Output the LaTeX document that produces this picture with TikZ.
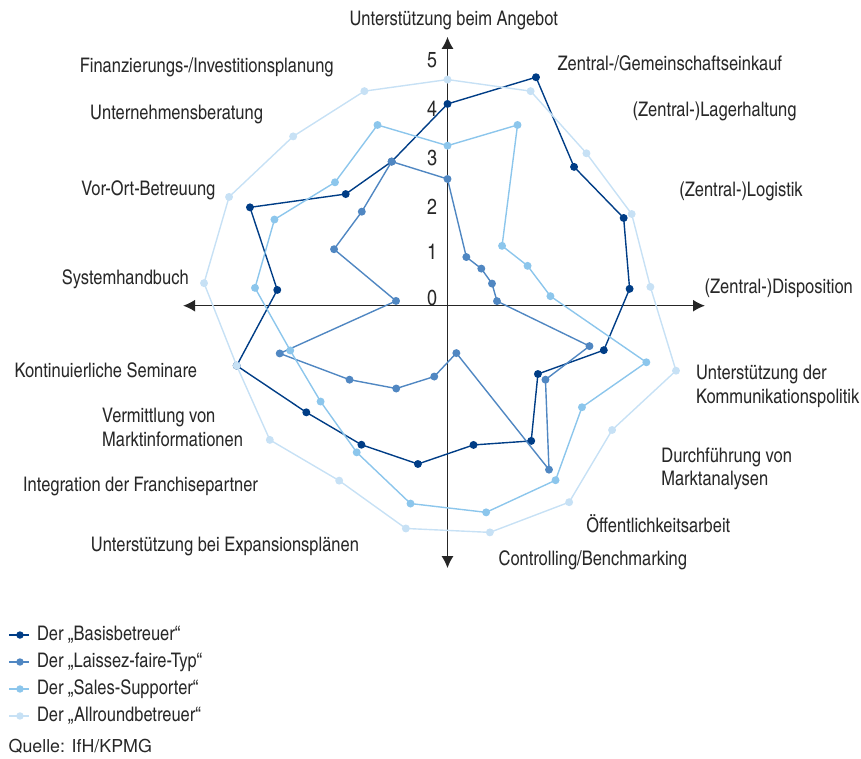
\documentclass[tikz,border=0pt]{standalone}
\usepackage{fontspec}
\setmainfont{TeX Gyre Heros Cn}
\newfontfamily\quellefont{TeX Gyre Heros}
\usetikzlibrary{arrows.meta}
\definecolor{basiscol}{RGB}{0,61,134}
\definecolor{laissezcol}{RGB}{80,135,194}
\definecolor{salescol}{RGB}{140,198,236}
\definecolor{allroundcol}{RGB}{199,225,245}
\definecolor{txtcol}{RGB}{40,40,40}

\begin{document}
\begin{tikzpicture}[
    font=\fontsize{11.5}{13.6}\selectfont,
    lbl/.style={inner sep=0pt,text=txtcol},
    ticklbl/.style={inner sep=0pt,text=txtcol,font=\fontsize{12.5}{13}\selectfont},
    ax/.style={line width=0.75pt,draw=black!85,
      {Latex[length=2.4mm,width=2.4mm]}-{Latex[length=2.4mm,width=2.4mm]}},
    ser/.style={line width=0.8pt,draw=#1,line join=round}
  ]
  \useasboundingbox (-9.004,-9.101) rectangle (8.320,6.151);

  % axes
  \coordinate (top) at (0,5.41);
  \coordinate (bottom) at (0,-5.28);
  \coordinate (left) at (-5.32,0);
  \coordinate (right) at (5.18,0);
  \draw[ax] (bottom) -- (top);
  \draw[ax] (left) -- (right);

  % scale
  \foreach \v/\y in {0/0.16,1/1.09,2/1.98,3/2.97,4/3.96,5/4.94}
    \node[ticklbl] (t\v) at (-0.31,\y) {\v};

  % category labels
  \node[lbl] (angebot) at (0.127,5.734) {Unterstützung beim Angebot};
  \node[lbl,anchor=west] (einkauf) at (2.209,4.877) {Zentral-/Gemeinschaftseinkauf};
  \node[lbl,anchor=west] (lager) at (3.718,3.903) {(Zentral-)Lagerhaltung};
  \node[lbl,anchor=west] (logistik) at (4.658,2.294) {(Zentral-)Logistik};
  \node[lbl,anchor=west] (dispo) at (5.167,0.350) {(Zentral-)Disposition};
  \node[lbl,anchor=west,align=left] (komm) at (4.994,-1.626) {Unterstützung der\\Kommunikationspolitik};
  \node[lbl,anchor=west,align=left] (markt) at (4.296,-3.280) {Durchführung von\\Marktanalysen};
  \node[lbl,anchor=west] (oeff) at (2.787,-4.392) {Öffentlichkeitsarbeit};
  \node[lbl,anchor=west] (contr) at (1.022,-5.117) {Controlling/Benchmarking};
  \node[lbl,anchor=east] (expan) at (-1.775,-4.849) {Unterstützung bei Expansionsplänen};
  \node[lbl,anchor=east] (integ) at (-3.807,-3.642) {Integration der Franchisepartner};
  \node[lbl,anchor=east,align=left] (vermi) at (-4.109,-2.455) {Vermittlung von\\Marktinformationen};
  \node[lbl,anchor=east] (semin) at (-5.034,-1.294) {Kontinuierliche Seminare};
  \node[lbl,anchor=east] (handb) at (-5.201,0.537) {Systemhandbuch};
  \node[lbl,anchor=east] (vorort) at (-4.664,2.328) {Vor-Ort-Betreuung};
  \node[lbl,anchor=east] (berat) at (-3.706,3.857) {Unternehmensberatung};
  \node[lbl,anchor=east] (finanz) at (-2.284,4.789) {Finanzierungs-/Investitionsplanung};

  % series (17 axes, clockwise from top)
  \foreach \sname/\c/\vals in {
      b/basiscol/{4.06,4.93,3.78,3.96,3.68,3.27,2.28,3.20,2.85,3.24,3.29,3.56,4.41,3.44,4.44,3.04,3.11},
      l/laissezcol/{2.55,1.05,1.01,1.00,1.00,2.97,2.47,3.88,0.97,1.45,1.96,2.47,3.51,1.04,2.55,2.56,3.11},
      s/salescol/{3.22,3.90,1.63,1.80,2.08,4.16,3.39,4.13,4.23,4.05,3.47,3.20,3.29,3.89,3.89,3.36,3.90},
      a/allroundcol/{4.55,4.63,4.15,4.14,4.10,4.78,4.15,4.65,4.64,4.56,4.14,4.48,4.41,4.92,4.91,4.61,4.63}}{
    \foreach \v [count=\i from 0] in \vals
      \coordinate (\sname\i) at ({90-\i*360/17}:\v);
    \draw[ser=\c] (\sname0) \foreach \i in {1,...,16}{ -- (\sname\i)} -- cycle;
    \foreach \i in {0,...,16}
      \fill[\c] (\sname\i) circle (0.08);
  }

  % legend
  \foreach \c/\t [count=\k from 0] in {basiscol/Basisbetreuer,laissezcol/Laissez-faire-Typ,
      salescol/Sales-Supporter,allroundcol/Allroundbetreuer}{
    \coordinate (lg\k a) at (-8.817,{-6.626-0.543*\k});
    \coordinate (lg\k m) at (-8.602,{-6.626-0.543*\k});
    \coordinate (lg\k b) at (-8.414,{-6.626-0.543*\k});
    \draw[ser=\c] (lg\k a) -- (lg\k b);
    \fill[\c] (lg\k m) circle (0.075);
    \node[lbl,anchor=west] (lgt\k) at (-8.266,{-6.626-0.543*\k}) {Der „\t“};
  }
  \node[lbl,anchor=west,font=\quellefont\fontsize{10.2}{12}\selectfont] (quelle) at (-8.837,-8.873) {Quelle: IfH/KPMG};
\end{tikzpicture}
\end{document}
